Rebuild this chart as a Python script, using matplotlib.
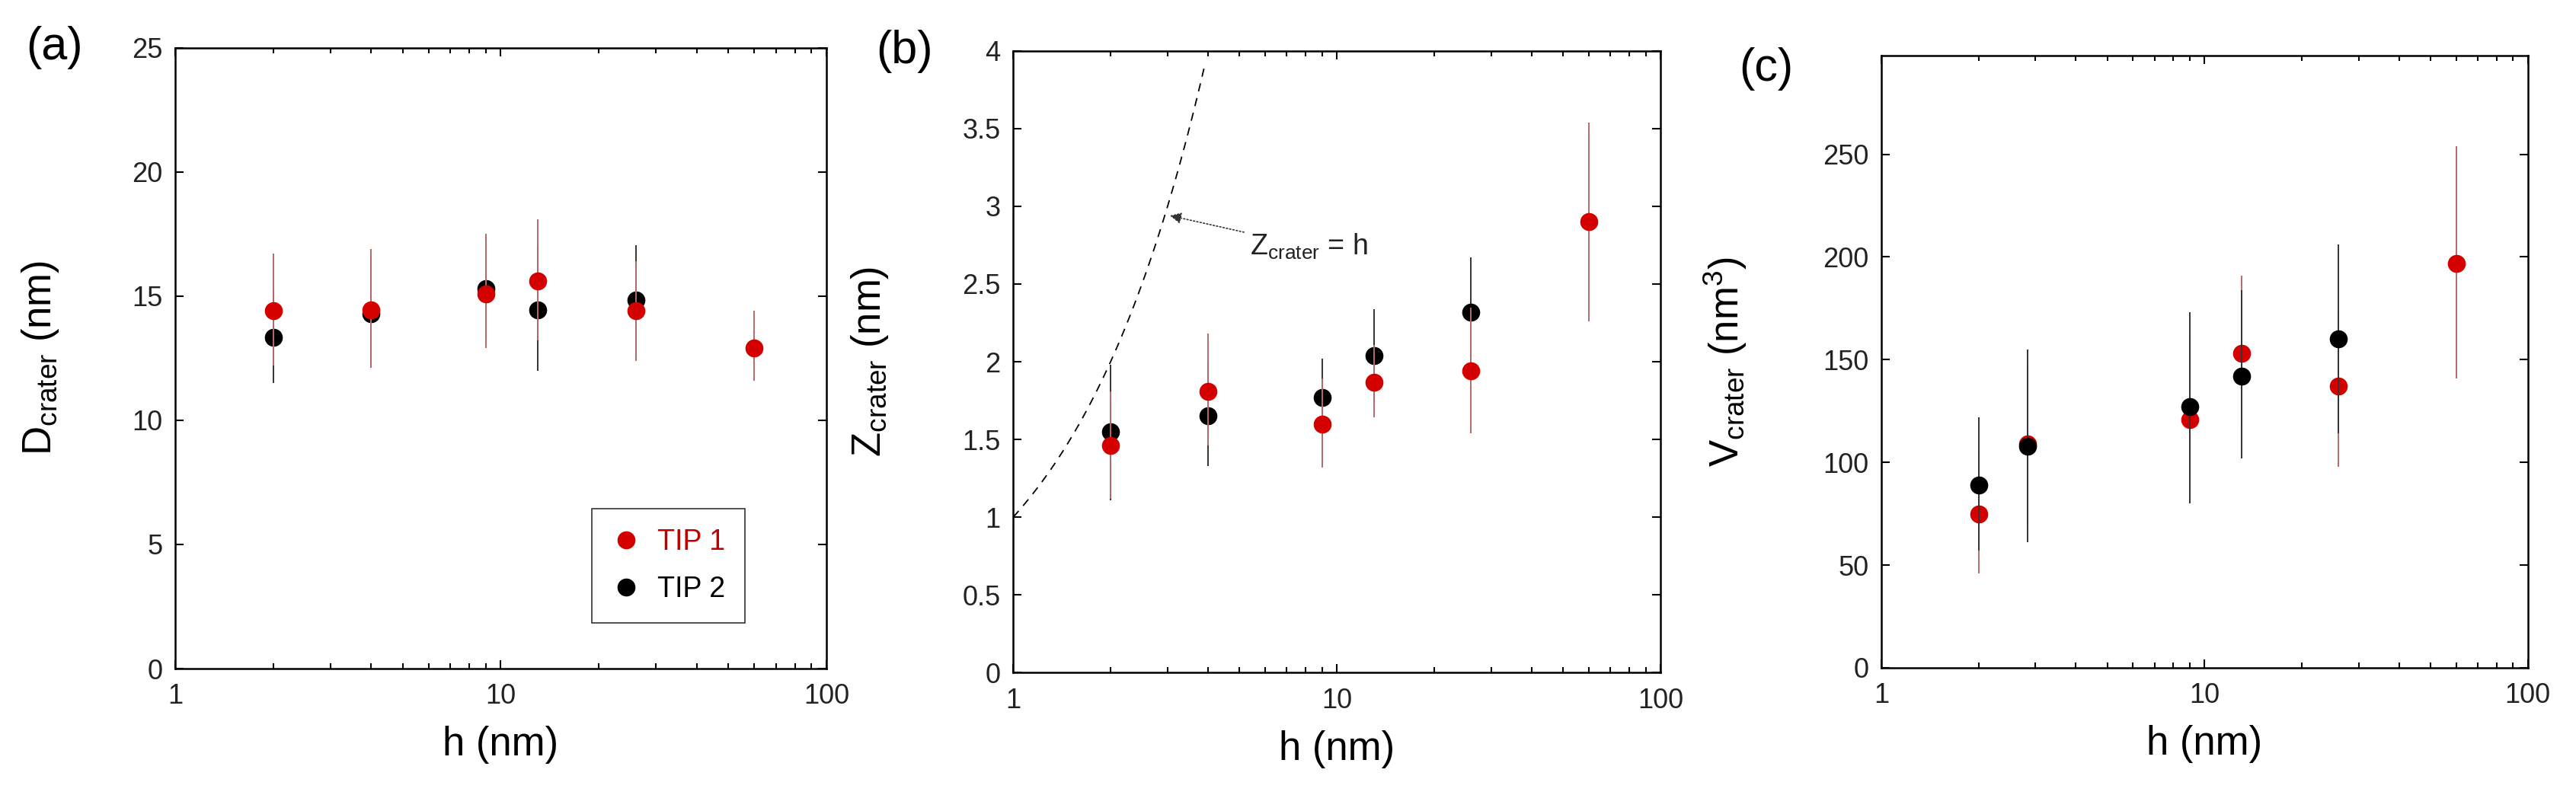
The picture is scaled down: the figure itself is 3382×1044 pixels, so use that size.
import numpy as np
import matplotlib
matplotlib.use("Agg")
import matplotlib.pyplot as plt
from matplotlib.lines import Line2D
from matplotlib.ticker import FixedLocator, LogLocator, FuncFormatter, NullFormatter

plt.rcParams["font.family"] = ["Liberation Sans", "DejaVu Sans"]
plt.rcParams["mathtext.fontset"] = "custom"
plt.rcParams["mathtext.rm"] = "Liberation Sans"
plt.rcParams["mathtext.default"] = "regular"

RED = "#d40000"
RED_BAR = "#b86a6a"
BLACK = "#000000"
BLACK_BAR = "#333333"

# ------------------------
# DATA
# ------------------------
# (a) crater diameter
h_a1 = [2, 4, 9, 13, 26, 60]
d_tip1 = [14.4, 14.45, 15.1, 15.6, 14.4, 12.9]
d_tip1_lo = [12.2, 12.1, 12.9, 13.2, 12.4, 11.6]
d_tip1_hi = [16.7, 16.9, 17.5, 18.1, 16.4, 14.4]
h_a2 = [2, 4, 9, 13, 26]
d_tip2 = [13.35, 14.3, 15.3, 14.45, 14.85]
d_tip2_lo = [11.5, 12.1, 13.3, 12.0, 12.5]
d_tip2_hi = [15.2, 16.6, 17.4, 17.0, 17.05]

# (b) crater depth
h_b1 = [2, 4, 9, 13, 26, 60]
z_tip1 = [1.46, 1.81, 1.60, 1.87, 1.94, 2.90]
z_tip1_lo = [1.12, 1.46, 1.32, 1.64, 1.54, 2.26]
z_tip1_hi = [1.81, 2.18, 1.89, 2.11, 2.35, 3.54]
h_b2 = [2, 4, 9, 13, 26]
z_tip2 = [1.55, 1.65, 1.77, 2.04, 2.32]
z_tip2_lo = [1.11, 1.33, 1.52, 1.74, 1.96]
z_tip2_hi = [1.98, 1.99, 2.02, 2.34, 2.67]
ref_h_max = 3.9  # Z_crater = h guide line drawn from h = 1 up to here

# (c) crater volume
h_c1 = [2, 2.83, 9, 13, 26, 60]
v_tip1 = [75, 109, 121, 153, 137, 197]
v_tip1_lo = [46, 70, 80, 116, 98, 141]
v_tip1_hi = [106, 148, 161, 191, 175, 254]
h_c2 = [2, 2.83, 9, 13, 26]
v_tip2 = [89, 108, 127, 142, 160]
v_tip2_lo = [57, 61, 80, 102, 114]
v_tip2_hi = [122, 155, 173, 184, 206]


def draw_series(ax, h, y, lo, hi, color, ecolor, z):
    y = np.asarray(y)
    yerr = [y - np.asarray(lo), np.asarray(hi) - y]
    ax.errorbar(h, y, yerr=yerr, fmt="o", color=color, ecolor=ecolor,
                markersize=17, elinewidth=1.4, capsize=8, capthick=1.6,
                markeredgewidth=0, zorder=z)


def style_axes(ax, ylim, yticks, ylabel, label_x):
    ax.set_xscale("log")
    ax.set_xlim(1, 100)
    ax.set_ylim(*ylim)
    ax.yaxis.set_major_locator(FixedLocator(yticks))
    ax.xaxis.set_major_locator(LogLocator(base=10, numticks=5))
    ax.xaxis.set_minor_locator(LogLocator(base=10, subs=np.arange(2, 10), numticks=20))
    ax.xaxis.set_major_formatter(FuncFormatter(lambda v, p: f"{v:g}"))
    ax.xaxis.set_minor_formatter(NullFormatter())
    ax.tick_params(which="both", direction="in", top=True, right=True,
                   labelsize=26, labelcolor="#222222", width=1.5)
    ax.tick_params(which="major", length=8)
    ax.tick_params(which="minor", length=5)
    ax.tick_params(axis="x", pad=14)
    ax.tick_params(axis="y", pad=12)
    for s in ax.spines.values():
        s.set_linewidth(1.8)
    ax.set_xlabel("h (nm)", fontsize=38, labelpad=15)
    ax.set_ylabel(ylabel, fontsize=38)
    ax.yaxis.set_label_coords(label_x, 0.5)


fig = plt.figure(figsize=(33.82, 10.44), dpi=100)
ax_a = fig.add_axes([0.0680, 0.159, 0.2528, 0.781])
ax_b = fig.add_axes([0.3933, 0.154, 0.2513, 0.782])
ax_c = fig.add_axes([0.7303, 0.160, 0.2510, 0.770])

# (a)
draw_series(ax_a, h_a2, d_tip2, d_tip2_lo, d_tip2_hi, BLACK, BLACK_BAR, 3)
draw_series(ax_a, h_a1, d_tip1, d_tip1_lo, d_tip1_hi, RED, RED_BAR, 4)
style_axes(ax_a, (0, 25), [0, 5, 10, 15, 20, 25],
           r"D$_{crater}$ (nm)", -0.175)
handles = [Line2D([], [], ls="none", marker="o", ms=17, mew=0, color=RED),
           Line2D([], [], ls="none", marker="o", ms=17, mew=0, color=BLACK)]
leg = ax_a.legend(handles, ["TIP 1", "TIP 2"], loc="lower right",
                  bbox_to_anchor=(0.897, 0.05), fontsize=27, frameon=True,
                  fancybox=False, edgecolor="black", handletextpad=0.6,
                  handlelength=1.0, borderpad=0.7, labelspacing=0.7)
leg.get_frame().set_linewidth(1.2)
leg.get_texts()[0].set_color("#c00000")

# (b)
ref_h = np.geomspace(1, ref_h_max, 80)
ax_b.plot(ref_h, ref_h, ls=(0, (6, 5)), color="black", lw=1.3, zorder=2)
draw_series(ax_b, h_b2, z_tip2, z_tip2_lo, z_tip2_hi, BLACK, BLACK_BAR, 3)
draw_series(ax_b, h_b1, z_tip1, z_tip1_lo, z_tip1_hi, RED, RED_BAR, 4)
style_axes(ax_b, (0, 4), [0, 0.5, 1, 1.5, 2, 2.5, 3, 3.5, 4],
           r"Z$_{crater}$ (nm)", -0.19)
ax_b.yaxis.set_major_formatter(FuncFormatter(lambda v, p: f"{v:g}"))
ax_b.annotate(r"Z$_{crater}$ = h", xy=(3.05, 2.94), xytext=(5.4, 2.74),
              fontsize=27, color="#222222", va="center", ha="left",
              arrowprops=dict(arrowstyle="-|>", ls=":", lw=1.2, color="#333333",
                              shrinkA=4, shrinkB=0, mutation_scale=22))

# (c)
draw_series(ax_c, h_c1, v_tip1, v_tip1_lo, v_tip1_hi, RED, RED_BAR, 3)
draw_series(ax_c, h_c2, v_tip2, v_tip2_lo, v_tip2_hi, BLACK, BLACK_BAR, 4)
style_axes(ax_c, (0, 298), [0, 50, 100, 150, 200, 250],
           r"V$_{crater}$ (nm$^{3}$)", -0.205)

# panel letters
fig.text(72 / 3382, 1 - 62 / 1044, "(a)", fontsize=44, ha="center", va="center")
fig.text(1188 / 3382, 1 - 67 / 1044, "(b)", fontsize=44, ha="center", va="center")
fig.text(2319 / 3382, 1 - 90 / 1044, "(c)", fontsize=44, ha="center", va="center")

fig.savefig("out.png", dpi=100, facecolor="white")
